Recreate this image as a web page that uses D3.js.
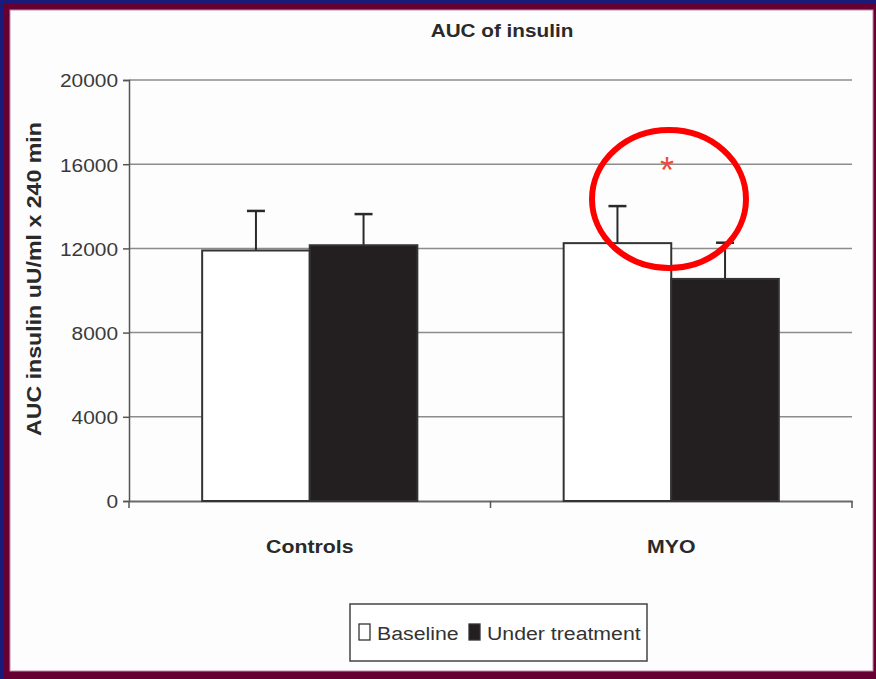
<!DOCTYPE html>
<html>
<head>
<meta charset="utf-8">
<script src="https://cdn.jsdelivr.net/npm/d3@7"></script>
<style>
  html, body { margin: 0; padding: 0; background: #660033; }
  svg { display: block; }
  text { font-family: "Liberation Sans", Arial, sans-serif; }
</style>
</head>
<body>
<svg id="chart" width="876" height="679"></svg>
<script>
// Groups, series and values
const categories = ["Controls", "MYO"];
const seriesNames = ["Baseline", "Under treatment"];
const baselineValues = [11900, 12250];
const treatmentValues = [12150, 10550];
const baselineSD = [1880, 1760];
const treatmentSD = [1480, 1720];
const yTicks = [0, 4000, 8000, 12000, 16000, 20000];

const svg = d3.select("#chart");
const W = 876, H = 679;

// Slide frame: maroon background, navy edge, white panel
svg.append("rect").attr("x", 0).attr("y", 0).attr("width", W).attr("height", H).attr("fill", "#660033");
svg.append("rect").attr("x", 0).attr("y", 0).attr("width", W).attr("height", 3).attr("fill", "#1a1a7a");
svg.append("rect").attr("x", 0).attr("y", 0).attr("width", 3).attr("height", H).attr("fill", "#1a1a7a");
svg.append("rect").attr("x", 10).attr("y", 10).attr("width", 863).attr("height", 661)
  .attr("fill", "#fdfdfd").attr("stroke", "#c58aa8").attr("stroke-width", 1);

const plot = { left: 129, right: 852, top: 80, bottom: 501 };

const x = d3.scaleBand().domain(categories).range([plot.left, plot.right]).paddingInner(0).paddingOuter(0);
const xSub = d3.scaleBand().domain(seriesNames).range([0, x.bandwidth()]).paddingInner(0).paddingOuter(0.68);
const y = d3.scaleLinear().domain([0, 20000]).range([plot.bottom, plot.top]);

// Gridlines
svg.append("g").selectAll("line").data(yTicks.filter(d => d > 0)).join("line")
  .attr("x1", plot.left).attr("x2", plot.right)
  .attr("y1", d => y(d)).attr("y2", d => y(d))
  .attr("stroke", "#8c8c8c").attr("stroke-width", 1.5);

// Y axis
const yAxis = svg.append("g").attr("transform", `translate(${plot.left},0)`)
  .call(d3.axisLeft(y).tickValues(yTicks).tickSize(6).tickPadding(10).tickFormat(d3.format("d")));
yAxis.select(".domain").attr("stroke", "#555").attr("stroke-width", 1.5);
yAxis.selectAll(".tick line").attr("stroke", "#555").attr("stroke-width", 1.5);
yAxis.selectAll(".tick text").attr("font-size", 19).attr("fill", "#3a3a3a")
  .attr("font-family", "Liberation Sans, Arial, sans-serif")
  .attr("dy", "0.36em").attr("transform", "scale(1.1,1)")
  .attr("x", -11 / 1.1);

// X axis
const xAxis = svg.append("g").attr("transform", `translate(0,${plot.bottom})`)
  .call(d3.axisBottom(x).tickSize(0).tickFormat(""));
xAxis.select(".domain").attr("stroke", "#6a6a6a").attr("stroke-width", 2);
const xTickPos = [plot.left, (plot.left + plot.right) / 2, plot.right];
svg.append("g").selectAll("line").data(xTickPos).join("line")
  .attr("x1", d => d).attr("x2", d => d)
  .attr("y1", plot.bottom).attr("y2", plot.bottom + 7)
  .attr("stroke", "#555").attr("stroke-width", 1.5);

// Bars
const rows = categories.map((c, i) => ({
  cat: c,
  vals: [
    { s: seriesNames[0], v: baselineValues[i], sd: baselineSD[i] },
    { s: seriesNames[1], v: treatmentValues[i], sd: treatmentSD[i] }
  ]
}));
const fills = { "Baseline": "#ffffff", "Under treatment": "#231f20" };

const groups = svg.append("g").selectAll("g").data(rows).join("g")
  .attr("transform", d => `translate(${x(d.cat)},0)`);

// error bars (upper only)
groups.selectAll("g.err").data(d => d.vals).join("g").attr("class", "err")
  .each(function (d) {
    const g = d3.select(this);
    const cx = xSub(d.s) + xSub.bandwidth() / 2;
    g.append("line").attr("x1", cx).attr("x2", cx)
      .attr("y1", y(d.v)).attr("y2", y(d.v + d.sd))
      .attr("stroke", "#2a2a2a").attr("stroke-width", 2);
    g.append("line").attr("x1", cx - 9).attr("x2", cx + 9)
      .attr("y1", y(d.v + d.sd)).attr("y2", y(d.v + d.sd))
      .attr("stroke", "#2a2a2a").attr("stroke-width", 2.5);
  });

groups.selectAll("rect").data(d => d.vals).join("rect")
  .attr("x", d => xSub(d.s))
  .attr("width", xSub.bandwidth())
  .attr("y", d => y(d.v))
  .attr("height", d => y(0) - y(d.v))
  .attr("fill", d => fills[d.s])
  .attr("stroke", "#333").attr("stroke-width", 2);

// Category labels
svg.append("g").selectAll("text").data(categories).join("text")
  .attr("transform", d => `translate(${x(d) + x.bandwidth() / 2},553) scale(1.12,1)`)
  .attr("text-anchor", "middle").attr("font-size", 19).attr("font-weight", "bold")
  .attr("fill", "#2a2a2a").text(d => d);

// Title
svg.append("text").attr("transform", "translate(502,37) scale(1.12,1)")
  .attr("text-anchor", "middle").attr("font-size", 18.5).attr("font-weight", "bold")
  .attr("fill", "#2a2a2a").text("AUC of insulin");

// Y axis title
svg.append("text").attr("transform", "translate(41,279) rotate(-90) scale(1.13,1)")
  .attr("text-anchor", "middle").attr("font-size", 20.5).attr("font-weight", "bold")
  .attr("fill", "#2a2a2a").text("AUC insulin uU/ml x 240 min");

// Legend
const legend = svg.append("g");
legend.append("rect").attr("x", 350).attr("y", 604).attr("width", 297).attr("height", 57)
  .attr("fill", "#fff").attr("stroke", "#444").attr("stroke-width", 1.5);
const legendItems = [
  { s: seriesNames[0], sx: 359, tx: 377 },
  { s: seriesNames[1], sx: 469, tx: 487 }
];
legend.selectAll("rect.sw").data(legendItems).join("rect").attr("class", "sw")
  .attr("x", d => d.sx).attr("y", 624).attr("width", 11).attr("height", 16)
  .attr("fill", d => fills[d.s]).attr("stroke", "#333").attr("stroke-width", 1.3);
legend.selectAll("text").data(legendItems).join("text")
  .attr("transform", d => `translate(${d.tx},640) scale(1.12,1)`)
  .attr("font-size", 19).attr("fill", "#333").text(d => d.s);

// Significance marker and highlight
svg.append("text").attr("x", 667).attr("y", 183).attr("text-anchor", "middle")
  .attr("font-size", 36).attr("fill", "#f04a3a").text("*");
svg.append("ellipse").attr("cx", 669).attr("cy", 199).attr("rx", 77).attr("ry", 69)
  .attr("fill", "none").attr("stroke", "#ff0000").attr("stroke-width", 6);
</script>
</body>
</html>
